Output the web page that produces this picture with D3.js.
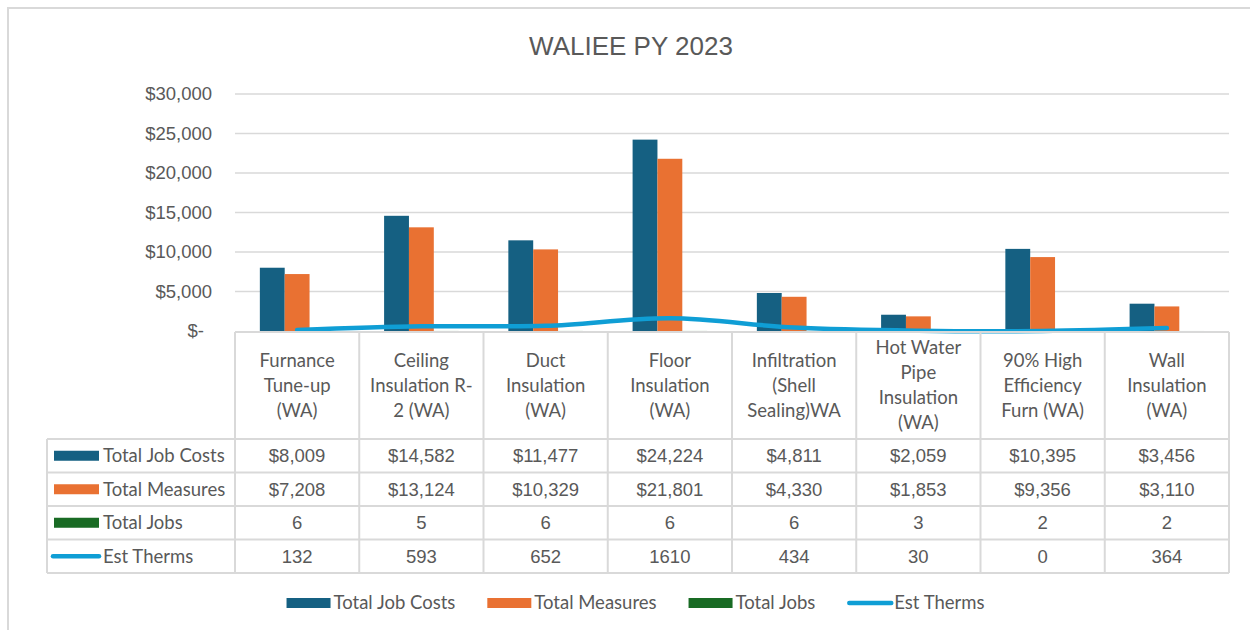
<!DOCTYPE html>
<html lang="en">
  <head>
    <meta charset="UTF-8">
    <title>WALIEE PY 2023</title>
    <style>
      body { margin: 0; background: #fff; }
      .grid line { stroke: #d9d9d9; stroke-width: 1.5; }
      .tbl line { stroke: #d9d9d9; stroke-width: 2; }
      .num { font-family: "Liberation Sans", Arial, sans-serif; font-size: 18.5px; fill: #595959; }
      .lbl { font-family: "Lato", "Noto Sans", sans-serif; font-size: 18.5px; fill: #595959; }
      .title { font-family: "Liberation Sans", Arial, sans-serif; font-size: 26px; fill: #595959; }
    </style>
    <script src="https://d3js.org/d3.v7.min.js"></script>
  </head>
  <body>
    <script>
      // chart data
      const categories = [
        "Furnance\nTune-up\n(WA)",
        "Ceiling\nInsulation R-\n2 (WA)",
        "Duct\nInsulation\n(WA)",
        "Floor\nInsulation\n(WA)",
        "Infiltration\n(Shell\nSealing)WA",
        "Hot Water\nPipe\nInsulation\n(WA)",
        "90% High\nEfficiency\nFurn (WA)",
        "Wall\nInsulation\n(WA)"
      ];
      const totalJobCosts = [8009, 14582, 11477, 24224, 4811, 2059, 10395, 3456];
      const totalMeasures = [7208, 13124, 10329, 21801, 4330, 1853, 9356, 3110];
      const totalJobs = [6, 5, 6, 6, 6, 3, 2, 2];
      const estTherms = [132, 593, 652, 1610, 434, 30, 0, 364];
      const yTicks = [0, 5000, 10000, 15000, 20000, 25000, 30000];
      const yTickLabels = ["$-", "$5,000", "$10,000", "$15,000", "$20,000", "$25,000", "$30,000"];

      const barSeries = [
        { name: "Total Job Costs", values: totalJobCosts, color: "#156082" },
        { name: "Total Measures", values: totalMeasures, color: "#E97132" },
        { name: "Total Jobs", values: totalJobs, color: "#196B24" }
      ];
      const lineSeries = { name: "Est Therms", values: estTherms, color: "#0F9ED5" };

      const width = 1250, height = 630;
      const plot = { left: 235, right: 1229, top: 94, bottom: 331 };
      const tableLeft = 47;
      const headerBottom = 439;
      const rowH = 33.5;

      const svg = d3.select("body").append("svg")
        .attr("width", width)
        .attr("height", height);

      svg.append("rect")
        .attr("x", 8).attr("y", 8)
        .attr("width", width).attr("height", height)
        .attr("fill", "#fff")
        .attr("stroke", "#d9d9d9")
        .attr("stroke-width", 2);

      svg.append("text")
        .attr("class", "title")
        .attr("x", 631).attr("y", 55)
        .attr("text-anchor", "middle")
        .text("WALIEE PY 2023");

      const x = d3.scaleBand()
        .domain(d3.range(categories.length))
        .range([plot.left, plot.right]);

      const xSub = d3.scaleBand()
        .domain(barSeries.map(s => s.name))
        .range([0, x.bandwidth()])
        .paddingOuter(1);

      const y = d3.scaleLinear()
        .domain([0, 30000])
        .range([plot.bottom, plot.top]);

      // gridlines
      svg.append("g")
        .attr("class", "grid")
        .selectAll("line")
        .data(yTicks.filter(d => d > 0))
        .join("line")
        .attr("x1", plot.left).attr("x2", plot.right)
        .attr("y1", d => y(d)).attr("y2", d => y(d));

      // y labels
      svg.append("g")
        .selectAll("text")
        .data(yTicks)
        .join("text")
        .attr("class", "num")
        .attr("x", d => d === 0 ? 204 : 212)
        .attr("y", d => y(d))
        .attr("dy", "0.35em")
        .attr("text-anchor", "end")
        .text((d, i) => yTickLabels[i]);

      // bars
      const groups = svg.append("g")
        .selectAll("g")
        .data(barSeries)
        .join("g")
        .attr("fill", s => s.color);

      groups.selectAll("rect")
        .data(s => s.values.map((v, i) => ({ s: s.name, v, i })))
        .join("rect")
        .attr("x", d => x(d.i) + xSub(d.s))
        .attr("width", xSub.bandwidth())
        .attr("y", d => y(d.v))
        .attr("height", d => y(0) - y(d.v));

      // line
      const line = d3.line()
        .x((d, i) => x(i) + x.bandwidth() / 2)
        .y(d => y(d))
        .curve(d3.curveCatmullRom);

      svg.append("path")
        .datum(lineSeries.values)
        .attr("d", line)
        .attr("fill", "none")
        .attr("stroke", lineSeries.color)
        .attr("stroke-width", 4.5)
        .attr("stroke-linecap", "round")
        .attr("stroke-linejoin", "round");

      // data table
      const rows = [...barSeries, lineSeries];
      const rowY = i => headerBottom + i * rowH;
      const tableBottom = rowY(rows.length);
      const tbl = svg.append("g").attr("class", "tbl");

      tbl.append("line")
        .attr("x1", plot.left).attr("x2", plot.right)
        .attr("y1", plot.bottom + 1).attr("y2", plot.bottom + 1);
      tbl.selectAll(".h")
        .data(d3.range(rows.length + 1))
        .join("line")
        .attr("class", "h")
        .attr("x1", tableLeft).attr("x2", plot.right)
        .attr("y1", d => rowY(d)).attr("y2", d => rowY(d));
      tbl.selectAll(".v")
        .data(d3.range(categories.length + 1))
        .join("line")
        .attr("class", "v")
        .attr("x1", d => d < categories.length ? x(d) : plot.right)
        .attr("x2", d => d < categories.length ? x(d) : plot.right)
        .attr("y1", plot.bottom + 1).attr("y2", tableBottom);
      tbl.append("line")
        .attr("x1", tableLeft).attr("x2", tableLeft)
        .attr("y1", headerBottom).attr("y2", tableBottom);

      // category headers
      const headerMid = (plot.bottom + 1 + headerBottom) / 2;
      categories.forEach((c, i) => {
        const lines = c.split("\n");
        const t = svg.append("text")
          .attr("class", "lbl")
          .attr("text-anchor", "middle");
        lines.forEach((l, k) => {
          t.append("tspan")
            .attr("x", x(i) + x.bandwidth() / 2)
            .attr("y", headerMid + (k - (lines.length - 1) / 2) * 25)
            .attr("dy", "0.35em")
            .text(l);
        });
      });

      const fmtMoney = d3.format("$,.0f");
      rows.forEach((r, ri) => {
        const cy = rowY(ri) + rowH / 2;
        if (r === lineSeries) {
          svg.append("line")
            .attr("x1", 53).attr("x2", 99)
            .attr("y1", cy).attr("y2", cy)
            .attr("stroke", r.color).attr("stroke-width", 4.5)
            .attr("stroke-linecap", "round");
        } else {
          svg.append("rect")
            .attr("x", 54).attr("y", cy - 5)
            .attr("width", 45).attr("height", 10)
            .attr("fill", r.color);
        }
        svg.append("text")
          .attr("class", "lbl")
          .attr("x", 103).attr("y", cy).attr("dy", "0.35em")
          .text(r.name);
        svg.append("g")
          .selectAll("text")
          .data(r.values)
          .join("text")
          .attr("class", "num")
          .attr("x", (d, i) => x(i) + x.bandwidth() / 2)
          .attr("y", cy).attr("dy", "0.35em")
          .attr("text-anchor", "middle")
          .text(d => ri < 2 ? fmtMoney(d) : d);
      });

      // bottom legend
      const legend = svg.append("g");
      let lx = 0;
      rows.forEach(r => {
        const g = legend.append("g").attr("transform", `translate(${lx},0)`);
        if (r === lineSeries) {
          g.append("line")
            .attr("x1", 2).attr("x2", 44)
            .attr("stroke", r.color).attr("stroke-width", 4.5)
            .attr("stroke-linecap", "round");
        } else {
          g.append("rect")
            .attr("y", -5).attr("width", 44).attr("height", 10)
            .attr("fill", r.color);
        }
        const t = g.append("text")
          .attr("class", "lbl")
          .attr("x", 47).attr("dy", "0.35em")
          .text(r.name);
        lx += 47 + t.node().getComputedTextLength() + 32;
      });
      const legW = lx - 32;
      legend.attr("transform", `translate(${635.5 - legW / 2},603)`);
    </script>
  </body>
</html>
